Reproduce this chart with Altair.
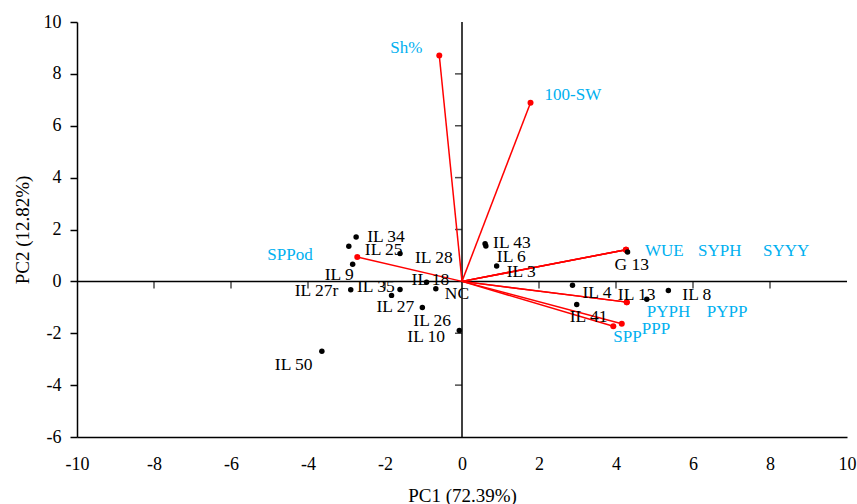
import altair as alt
import pandas as pd

# Genotype scores
genotypes = ["IL 34", "IL 25", "IL 28", "IL 9", "IL 18", "NC", "IL 35", "IL 27", "IL 27r",
             "IL 26", "IL 10", "IL 50", "IL 43", "IL 6", "IL 3", "G 13", "IL 4", "IL 13",
             "IL 8", "IL 41"]
geno_pc1 = [-2.75, -2.94, -1.61, -2.84, -0.92, -0.68, -1.61, -1.83, -2.89, -1.03, -0.07,
            -3.64, 0.60, 0.62, 0.90, 4.30, 2.87, 4.80, 5.36, 2.98]
geno_pc2 = [1.71, 1.35, 1.07, 0.66, -0.03, -0.28, -0.31, -0.54, -0.32, -1.01, -1.89,
            -2.69, 1.45, 1.36, 0.59, 1.13, -0.15, -0.69, -0.35, -0.89]

# Trait loadings (vectors)
traits = ["Sh%", "100-SW", "SPPod", "WUE", "SYPH", "SYYY", "PYPH", "PYPP", "PPP", "SPP"]
trait_pc1 = [-0.59, 1.78, -2.72, 4.26, 4.26, 4.26, 4.28, 4.28, 4.15, 3.93]
trait_pc2 = [8.71, 6.89, 0.94, 1.22, 1.22, 1.22, -0.80, -0.80, -1.63, -1.73]

# Axis ticks
x_ticks = [-10, -8, -6, -4, -2, 0, 2, 4, 6, 8, 10]
y_ticks = [-6, -4, -2, 0, 2, 4, 6, 8, 10]
zero_x_ticks = [-8, -6, -4, -2, 2, 4, 6, 8]
zero_y_ticks = [-4, -2, 2, 4, 6, 8]

# label placement offsets in pixels (styling)
geno_off = {"IL 34": (11, 5), "IL 25": (16, 9), "IL 28": (15, 9), "IL 9": (-28, 16),
            "IL 18": (-15, 3), "NC": (9, 10), "IL 35": (-43, 3), "IL 27": (-15, 17),
            "IL 27r": (-56, 6), "IL 26": (-9, 18), "IL 10": (-52, 12), "IL 50": (-47, 19),
            "IL 43": (8, 4), "IL 6": (11, 16), "IL 3": (10, 11), "G 13": (-13, 18),
            "IL 4": (10, 13), "IL 13": (-29, 1), "IL 8": (14, 10), "IL 41": (-7, 18)}
trait_off = {"Sh%": (-49, -2), "100-SW": (14, -3), "SPPod": (-90, 3), "WUE": (19, 6),
             "SYPH": (72, 6), "SYYY": (137, 6), "PYPH": (20, 15), "PYPP": (80, 15),
             "PPP": (20, 10), "SPP": (0, 16)}

FONT = "Liberation Serif"
RED = "#FF0000"
BLUE = "#00B0F0"

geno_df = pd.DataFrame({"name": genotypes, "pc1": geno_pc1, "pc2": geno_pc2})
trait_df = pd.DataFrame({"name": traits, "pc1": trait_pc1, "pc2": trait_pc2,
                         "o1": [0.0] * len(traits), "o2": [0.0] * len(traits)})

xscale = alt.Scale(domain=[-10, 10], nice=False, zero=False)
yscale = alt.Scale(domain=[-6, 10], nice=False, zero=False)

X = alt.X("pc1:Q", scale=xscale,
          axis=alt.Axis(title="PC1 (72.39%)", values=x_ticks, grid=False, ticks=False,
                        labelExpr="'' + datum.value",
                        domainColor="black", domainWidth=1.5, labelFont=FONT, labelFontSize=18,
                        labelColor="black", labelPadding=18, titleFont=FONT, titleFontSize=19,
                        titleFontWeight="normal", titleColor="black", titlePadding=13,
                        labelFlush=False))
Y = alt.Y("pc2:Q", scale=yscale,
          axis=alt.Axis(title="PC2 (12.82%)", values=y_ticks, grid=False, ticks=True,
                        labelExpr="'' + datum.value",
                        tickSize=7, tickWidth=1.5, tickColor="black",
                        domainColor="black", domainWidth=1.5, labelFont=FONT, labelFontSize=18,
                        labelColor="black", labelPadding=9, titleFont=FONT, titleFontSize=19,
                        titleFontWeight="normal", titleColor="black", titlePadding=11,
                        labelFlush=False))

base_axes = alt.Chart(geno_df).mark_point(opacity=0).encode(x=X, y=Y)

hline = alt.Chart(pd.DataFrame({"v": [0]})).mark_rule(color="black", strokeWidth=1.5).encode(
    y=alt.Y("v:Q", scale=yscale))
vline = alt.Chart(pd.DataFrame({"v": [0]})).mark_rule(color="black", strokeWidth=1.5).encode(
    x=alt.X("v:Q", scale=xscale))

hticks = alt.Chart(pd.DataFrame({"t": zero_x_ticks, "z": [0] * len(zero_x_ticks)})).mark_tick(
    orient="vertical", size=7, thickness=1.5, color="black", yOffset=3.5).encode(
    x=alt.X("t:Q", scale=xscale), y=alt.Y("z:Q", scale=yscale))
vticks = alt.Chart(pd.DataFrame({"t": zero_y_ticks, "z": [0] * len(zero_y_ticks)})).mark_tick(
    orient="horizontal", size=7, thickness=1.5, color="black", xOffset=-3.5).encode(
    y=alt.Y("t:Q", scale=yscale), x=alt.X("z:Q", scale=xscale))

vectors = alt.Chart(trait_df).mark_rule(color=RED, strokeWidth=1.5).encode(
    x=alt.X("o1:Q", scale=xscale), y=alt.Y("o2:Q", scale=yscale),
    x2="pc1:Q", y2="pc2:Q")
vec_pts = alt.Chart(trait_df).mark_circle(color=RED, size=36, opacity=1).encode(
    x=alt.X("pc1:Q", scale=xscale), y=alt.Y("pc2:Q", scale=yscale))
geno_pts = alt.Chart(geno_df).mark_circle(color="black", size=30, opacity=1).encode(
    x=alt.X("pc1:Q", scale=xscale), y=alt.Y("pc2:Q", scale=yscale))

layers = [base_axes, hline, vline, hticks, vticks, vectors, vec_pts, geno_pts]

for n in genotypes:
    dx, dy = geno_off[n]
    layers.append(
        alt.Chart(geno_df).transform_filter(alt.datum.name == n).mark_text(
            align="left", baseline="alphabetic", dx=dx, dy=dy, font=FONT, fontSize=17.5,
            color="black").encode(
            x=alt.X("pc1:Q", scale=xscale), y=alt.Y("pc2:Q", scale=yscale), text="name:N"))
for n in traits:
    dx, dy = trait_off[n]
    layers.append(
        alt.Chart(trait_df).transform_filter(alt.datum.name == n).mark_text(
            align="left", baseline="alphabetic", dx=dx, dy=dy, font=FONT, fontSize=17,
            color=BLUE).encode(
            x=alt.X("pc1:Q", scale=xscale), y=alt.Y("pc2:Q", scale=yscale), text="name:N"))

chart = alt.layer(*layers).properties(
    width=770, height=415,
    autosize=alt.AutoSizeParams(type="none"),
    padding={"left": 77, "top": 22, "right": 10, "bottom": 67},
    background="white",
).configure_view(stroke=None)

chart.save("out.html", embed_options={"renderer": "svg", "actions": False})
